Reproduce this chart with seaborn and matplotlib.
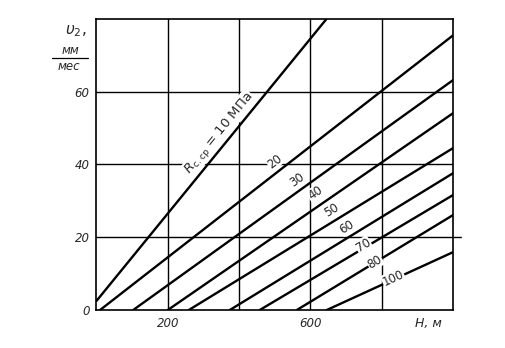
import math
import matplotlib
matplotlib.use("Agg")
import matplotlib.pyplot as plt
import pandas as pd
import seaborn as sns

# Rock strength (MPa) of each line and the end points of each line (H in m, v2 in mm/month)
strength = [10, 20, 30, 40, 50, 60, 70, 80, 100]
h_start = [0, 10, 103, 200, 259, 374, 458, 562, 646]
v_start = [2.5, 0, 0, 0, 0, 0, 0, 0, 0]
h_end = [645, 1000, 1000, 1000, 1000, 1000, 1000, 1000, 1000]
v_end = [80, 75.5, 63.2, 54.1, 44.5, 37.6, 31.6, 26.1, 15.9]

line_labels = ["$R_{\\mathrm{с.ср}}$ = 10 МПа", "20", "30", "40", "50", "60", "70", "80", "100"]

x_ticks = [200, 600]
y_ticks = [0, 20, 40, 60]
x_grid = [200, 400, 600, 800]
y_grid = [20, 40, 60]

# label centres (data coordinates) and sizes
label_pos = [(344, 48.6), (500, 40.9), (562, 35.7), (613, 32.1), (660, 27.5),
             (703, 22.8), (748, 17.9), (781, 13.2), (832, 8.8)]
label_size = [9.5, 8.5, 8.5, 8.5, 8.5, 8.5, 8.5, 8.5, 8.5]

sns.set_style("white")
plt.rcParams["font.family"] = ["DejaVu Sans"]
plt.rcParams["mathtext.fontset"] = "dejavusans"

fig = plt.figure(figsize=(5.06, 3.48), dpi=100)
ax = fig.add_axes([0.1907, 0.1092, 0.7046, 0.8362])
ax.set_xlim(0, 1000)
ax.set_ylim(0, 80)

for g in x_grid:
    ax.axvline(g, color="black", lw=1.0, zorder=1)
for g in y_grid:
    ax.axhline(g, color="black", lw=1.0, zorder=1)
# the 20 gridline runs a little past the frame
ax.axhline(20, xmin=1.0, xmax=1.028, color="black", lw=1.0, clip_on=False,
           dashes=(6, 2))

rows = []
for r, hs, vs, he, ve in zip(strength, h_start, v_start, h_end, v_end):
    rows.append({"R": r, "H": hs, "v": vs})
    rows.append({"R": r, "H": he, "v": ve})
df = pd.DataFrame(rows)

sns.lineplot(data=df, x="H", y="v", units="R", estimator=None, color="black",
             lw=1.7, ax=ax, zorder=2, legend=False)

for lab, (hx, vy), fs, hs, vs, he, ve in zip(line_labels, label_pos, label_size,
                                              h_start, v_start, h_end, v_end):
    p1 = ax.transData.transform((hs, vs))
    p2 = ax.transData.transform((he, ve))
    ang = math.degrees(math.atan2(p2[1] - p1[1], p2[0] - p1[0]))
    ax.text(hx, vy, lab, rotation=ang, rotation_mode="anchor", ha="center",
            va="center", fontsize=fs, zorder=3,
            bbox=dict(facecolor="white", edgecolor="none", pad=0.3))

ax.set_xticks(x_ticks)
ax.set_xticklabels([str(t) for t in x_ticks], fontstyle="italic", fontsize=8.5)
ax.set_yticks(y_ticks)
ax.set_yticklabels([str(t) for t in y_ticks], fontstyle="italic", fontsize=8.5)
ax.tick_params(axis="both", length=0, pad=5)
ax.set_xlabel("")
ax.set_ylabel("")

for s in ax.spines.values():
    s.set_visible(True)
    s.set_color("black")
    s.set_linewidth(1.2)

W, Hh = 506, 348
fig.text(428 / W, 1 - 323 / Hh, "H, м", fontstyle="italic", fontsize=9,
         ha="center", va="center")
fig.text(76 / W, 1 - 31 / Hh, "$\\upsilon_2$,", fontsize=11,
         ha="center", va="center")
fig.text(70 / W, 1 - 50 / Hh, "мм", fontstyle="italic", fontsize=8.5,
         ha="center", va="center")
fig.text(69 / W, 1 - 66 / Hh, "мес", fontstyle="italic", fontsize=8.5,
         ha="center", va="center")
fig.add_artist(plt.Line2D([52 / W, 88 / W], [1 - 57.5 / Hh, 1 - 57.5 / Hh],
                          color="black", lw=0.9))

fig.savefig("out.png", dpi=100)
